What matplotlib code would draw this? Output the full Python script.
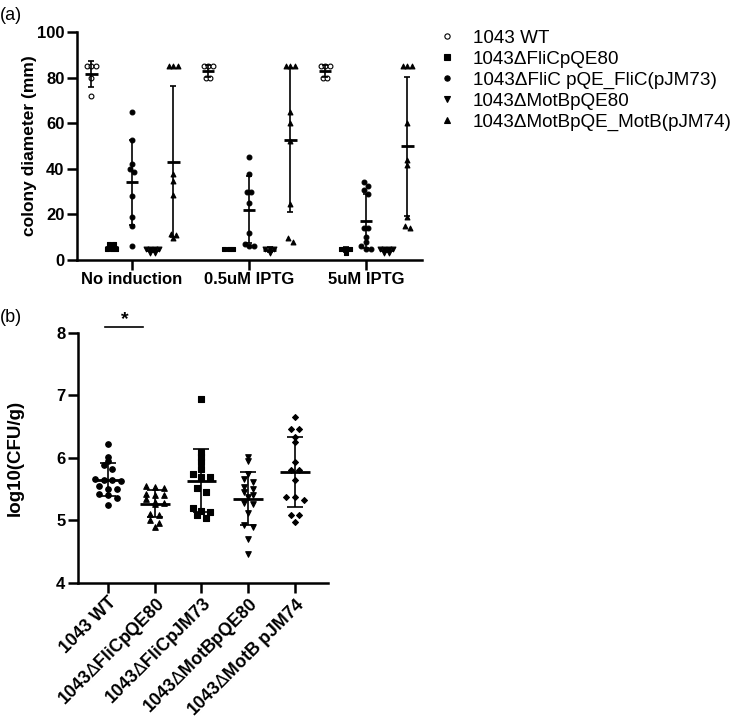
import numpy as np
import matplotlib
matplotlib.use('Agg')
import matplotlib.pyplot as plt
from matplotlib.lines import Line2D

plt.rcParams['font.family'] = ['Liberation Sans', 'DejaVu Sans']

# panel (a): swimming colony diameter (mm) for each induction condition
conditions = ['No induction', '0.5uM IPTG', '5uM IPTG']
strains_a = ['1043 WT', '1043ΔFliCpQE80', '1043ΔFliC pQE_FliC(pJM73)',
             '1043ΔMotBpQE80', '1043ΔMotBpQE_MotB(pJM74)']
wt_a = [[85, 85, 85, 80, 72], [85, 85, 85, 80, 80], [85, 85, 85, 80, 80]]
flic_qe_a = [[7, 7, 5, 5, 5], [5, 5, 5], [5, 5, 5, 3]]
flic_jm73_a = [[65, 52.5, 42, 40, 38.5, 28, 19, 15, 6],
               [45, 37.5, 30, 30, 25, 12, 7, 6, 6],
               [34, 32.5, 30.5, 29, 14, 14, 10, 8, 6, 5, 5]]
motb_qe_a = [[5, 5, 5, 5, 3, 3], [5, 5, 5, 3], [5, 5, 5, 5, 3, 3]]
motb_jm74_a = [[85, 85, 85, 37.5, 34.5, 28.5, 11.5, 11, 9.5],
               [85, 85, 85, 65, 60, 52, 24.5, 9.5, 8],
               [85, 85, 85, 60, 44, 41.5, 19, 15, 14]]

# panel (b): log10(CFU/g)
strains_b = ['1043 WT', '1043$\\Delta$FliCpQE80', '1043$\\Delta$FliCpJM73',
             '1043$\\Delta$MotBpQE80', '1043$\\Delta$MotB pJM74']
wt_b = [6.23, 6.02, 5.95, 5.88, 5.82, 5.66, 5.65, 5.64, 5.63, 5.55, 5.50,
        5.50, 5.42, 5.41, 5.36, 5.24]
flic_qe_b = [5.55, 5.53, 5.52, 5.42, 5.41, 5.40, 5.34, 5.29, 5.28, 5.27,
             5.10, 5.08, 5.00, 4.96, 4.90]
flic_jm73_b = [6.95, 6.09, 6.02, 5.94, 5.83, 5.75, 5.70, 5.69, 5.52, 5.46,
               5.20, 5.15, 5.14, 5.09, 5.04]
motb_qe_b = [6.02, 5.95, 5.74, 5.67, 5.62, 5.53, 5.50, 5.45, 5.40, 5.38,
             5.28, 5.27, 5.12, 4.93, 4.90, 4.70, 4.47]
motb_jm74_b = [6.66, 6.47, 6.47, 6.33, 6.26, 5.93, 5.80, 5.80, 5.65, 5.38,
               5.37, 5.32, 5.09, 5.08, 4.98]


def row_offsets(vals, tol, step):
    # spread points with (nearly) equal values side by side, like a dot plot
    v = np.asarray(vals, float)
    offs = np.zeros(len(v))
    rows, start = [], None
    for idx in np.argsort(-v, kind='stable'):
        if start is None or start - v[idx] > tol:
            rows.append([idx])
            start = v[idx]
        else:
            rows[-1].append(idx)
    for row in rows:
        n = len(row)
        for i, idx in enumerate(row):
            offs[idx] = (i - (n - 1) / 2) * step
    return offs


def dot_group(ax, x, vals, marker, size, face, tol, step, mean_w, cap, mean_lw):
    vals = np.asarray(vals, float)
    xs = x + row_offsets(vals, tol, step)
    ax.scatter(xs, vals, s=size, marker=marker, facecolor=face,
               edgecolor='k', linewidth=0.8, zorder=2, clip_on=False)
    m, sd = vals.mean(), vals.std(ddof=1)
    ax.errorbar(x, m, yerr=sd, fmt='none', ecolor='k', elinewidth=1.2,
                capsize=cap, capthick=1.2, zorder=3)
    ax.plot([x - mean_w, x + mean_w], [m, m], color='k', lw=mean_lw,
            zorder=3, solid_capstyle='butt')


def style_axes(ax, xsize=12, xpad=2):
    for s in ['top', 'right']:
        ax.spines[s].set_visible(False)
    for s in ['left', 'bottom']:
        ax.spines[s].set_linewidth(1.8)
    ax.tick_params(width=1.8, length=7, labelsize=12, pad=2)
    ax.tick_params(axis='x', labelsize=xsize, pad=xpad)
    for lab in ax.get_xticklabels() + ax.get_yticklabels():
        lab.set_fontweight('bold')


fig = plt.figure(figsize=(7.35, 7.24), dpi=100)

# ---------- (a) ----------
ax_a = fig.add_axes([0.1048, 0.6409, 0.4694, 0.3149])
series_a = [wt_a, flic_qe_a, flic_jm73_a, motb_qe_a, motb_jm74_a]
markers_a = ['o', 's', 'o', 'v', '^']
faces_a = ['white', 'k', 'k', 'k', 'k']
shift_a = [-0.35, -0.175, 0.0, 0.177, 0.353]
for j, grp in enumerate(series_a):
    for i in range(len(conditions)):
        dot_group(ax_a, i + shift_a[j], grp[i], markers_a[j], 12,
                  faces_a[j], 1.75, 0.0385, 0.055, 2.5, 2.0)
ax_a.set_xlim(-0.47, 2.479)
ax_a.set_ylim(0, 100)
ax_a.set_yticks([0, 20, 40, 60, 80, 100])
ax_a.set_xticks(range(len(conditions)))
ax_a.set_xticklabels(conditions)
ax_a.set_ylabel('colony diameter (mm)', fontsize=12.5, fontweight='bold')
ax_a.yaxis.set_label_coords(-0.116, 0.5)
style_axes(ax_a)

handles = [Line2D([], [], ls='none', marker=markers_a[j], markersize=3.8,
                  markerfacecolor=faces_a[j], markeredgecolor='k',
                  markeredgewidth=0.8) for j in range(len(strains_a))]
fig.legend(handles, strains_a, loc='upper left',
           bbox_to_anchor=(0.5978, 0.959), frameon=False, fontsize=13.6,
           handlelength=0.8, handletextpad=0.98, labelspacing=0.2,
           borderpad=0, borderaxespad=0)

# ---------- (b) ----------
ax_b = fig.add_axes([0.1061, 0.1948, 0.3401, 0.3453])
series_b = [wt_b, flic_qe_b, flic_jm73_b, motb_qe_b, motb_jm74_b]
markers_b = ['o', '^', 's', 'v', 'D']
sizes_b = [16, 16, 16, 16, 9]
for j, vals in enumerate(series_b):
    dot_group(ax_b, j, vals, markers_b[j], sizes_b[j], 'k', 0.064, 0.19,
              0.32, 5.5, 2.0)
ax_b.set_xlim(-0.642, 4.706)
ax_b.set_ylim(4, 8)
ax_b.set_yticks([4, 5, 6, 7, 8])
ax_b.set_xticks(range(len(strains_b)))
ax_b.set_xticklabels(strains_b, rotation=45, ha='right',
                     rotation_mode='anchor')
ax_b.set_ylabel('log10(CFU/g)', fontsize=13.5, fontweight='bold')
ax_b.yaxis.set_label_coords(-0.216, 0.5)
style_axes(ax_b, xsize=12.8, xpad=1)

# significance bar between WT and 1043ΔFliCpQE80
ax_b.plot([-0.06, 0.74], [8.1, 8.1], color='k', lw=1.2, clip_on=False)
ax_b.text(0.36, 8.08, '*', ha='center', va='bottom', fontsize=14,
          fontweight='bold')

fig.text(0.0, 0.978, '(a)', fontsize=13, va='center', ha='left')
fig.text(0.0, 0.561, '(b)', fontsize=13, va='center', ha='left')

fig.savefig('out.png', dpi=100)
